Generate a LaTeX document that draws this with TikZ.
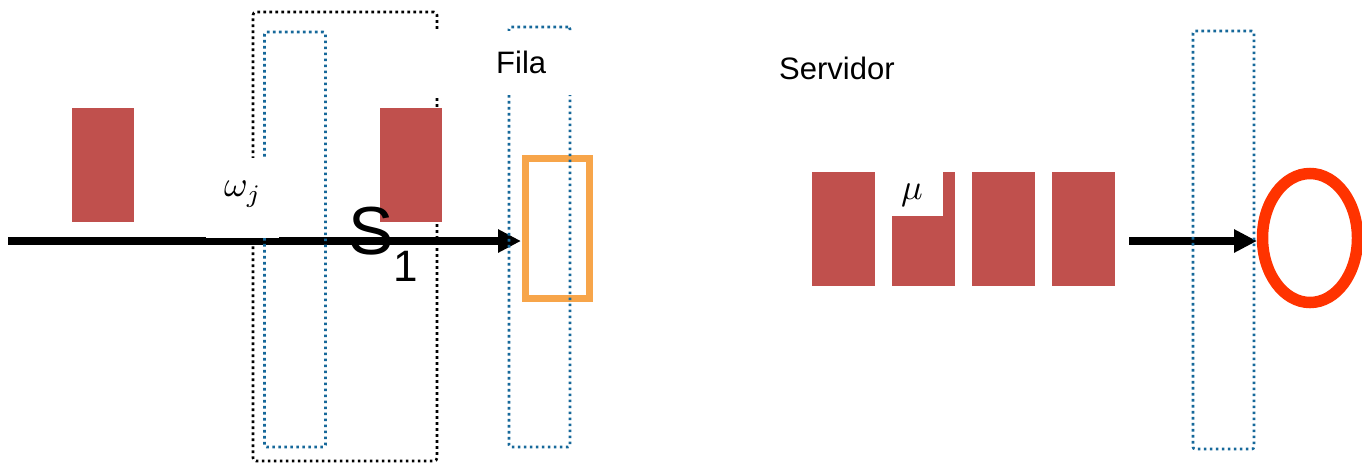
\documentclass[tikz,border=0pt]{standalone}
\usepackage{graphicx}
\usepackage{fontspec}
\setmainfont{Liberation Sans}
\usetikzlibrary{arrows.meta,shapes.geometric}
\definecolor{boxred}{HTML}{C0504D}
\definecolor{dotblue}{HTML}{16689A}
\definecolor{queueorange}{HTML}{F7A54A}
\definecolor{ringred}{HTML}{FF3300}
\newcommand{\bigmath}[1]{\scalebox{3.6}{$#1$}}
\tikzset{
  block/.style={fill=boxred, draw=none, inner sep=0pt, outer sep=0pt, minimum width=62pt, minimum height=114pt},
  blueframe/.style={draw=dotblue, line width=2.6pt, dash pattern=on 2.6pt off 3.4pt, rounded corners=2pt, inner sep=0pt, minimum width=61pt},
  blackframe/.style={draw=black, line width=2.6pt, dash pattern=on 2.6pt off 3.4pt, rounded corners=3pt, inner sep=0pt},
  mask/.style={fill=white, draw=none, inner sep=0pt, outer sep=0pt},
  flow/.style={line width=8pt, -{Triangle[length=23pt,width=22pt]}},
  lbl/.style={inner sep=0pt, font=\fontsize{31}{31}\selectfont},
  mathlbl/.style={inner sep=0pt},
}
\begin{document}
\begin{tikzpicture}[x=1pt, y=-1pt]
\useasboundingbox (0,0) rectangle (1362,464);

% queue slot and service ring
\node[draw=queueorange, line width=7pt, inner sep=0pt, minimum width=64pt, minimum height=140pt] (slot) at (557.5,228.5) {};
\node[draw=ringred, line width=11.5pt, ellipse, inner sep=0pt, minimum width=95pt, minimum height=129pt] (ring) at (1310,238) {};

% flow arrows
\coordinate (inL) at (8,241);
\coordinate (outS) at (1129,241);
\coordinate (outE) at (1257,241);
\draw[flow, shorten >=1pt] (inL) -- (slot.west |- inL);
\draw[flow] (outS) -- (outE);

% dotted frames
\node[blackframe, minimum width=184pt, minimum height=449pt] (win) at (345,236.5) {};
\node[blueframe, minimum height=415pt] (col1) at (295,239.5) {};
\node[blueframe, minimum height=420pt] (col2) at (539.5,237) {};
\node[blueframe, minimum height=418pt] (col3) at (1223.5,240) {};

% jobs
\node[block] (j1) at (103,165) {};
\node[block] (j2) at (411,165) {};
\node[block, minimum width=63pt] (k1) at (843.5,229) {};
\node[block, minimum width=63pt] (k2) at (923.5,229) {};
\node[block, minimum width=63pt] (k3) at (1003.5,229) {};
\node[block, minimum width=63pt] (k4) at (1083.5,229) {};

% label backgrounds
\node[mask, minimum width=73pt, minimum height=80pt] (wbg) at (242.5,198) {};
\node[mask, minimum width=146pt, minimum height=64pt] (fbg) at (505,63) {};
\node[mask, minimum width=51pt, minimum height=44pt] (mbg) at (917.5,194) {};

% labels
\node[mathlbl] (w) at (243,194) {\bigmath{\omega_j}};
\node[mathlbl] (mu) at (912,195) {\bigmath{\mu}};
\node[lbl, anchor=base west] (fila) at (496,73) {Fila};
\node[lbl, anchor=base west] (serv) at (779,79) {Servidor};
\node[inner sep=0pt, anchor=base west] (s1) at (348,254)
  {\fontsize{68}{68}\selectfont S\raisebox{-27pt}{\fontsize{44}{44}\selectfont 1}};
\end{tikzpicture}
\end{document}
